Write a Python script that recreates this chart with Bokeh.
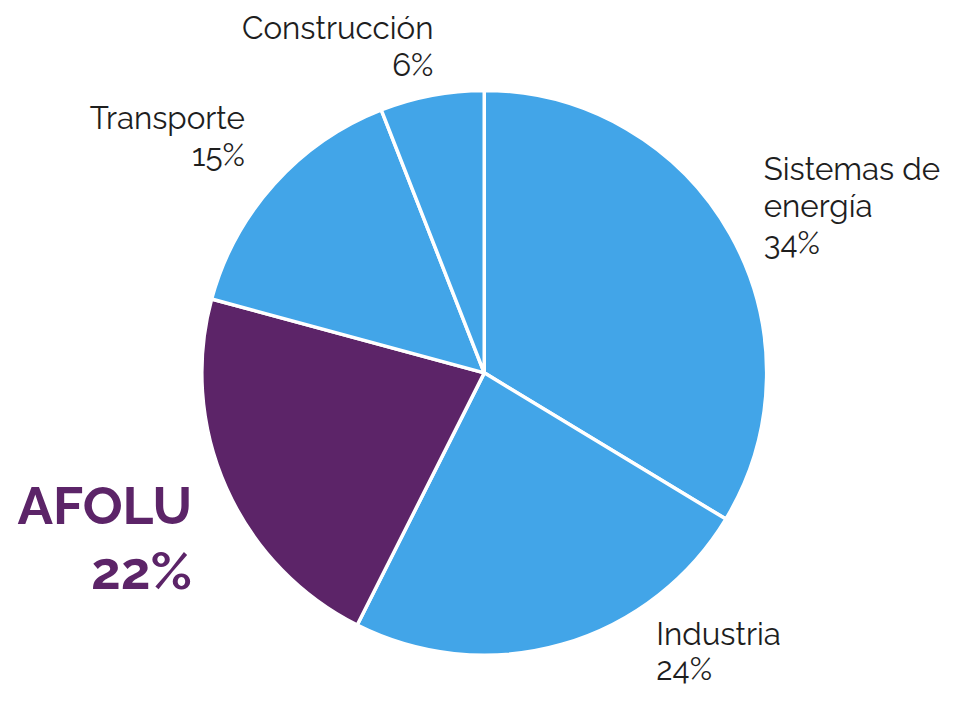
from bokeh.plotting import figure
from bokeh.models import Range1d, ColumnDataSource
from bokeh.core.properties import value
from bokeh.embed import file_html
from bokeh.resources import INLINE
import math

categories = ["Sistemas de energía", "Industria", "AFOLU", "Transporte", "Construcción"]
values = [34, 24, 22, 15, 6]
colors = ["#42A5E8", "#42A5E8", "#5C2468", "#42A5E8", "#42A5E8"]

W, H = 950, 688
S = H / 704.0  # px per data unit (reference pixel units)
p = figure(width=W, height=H, output_backend="svg", toolbar_location=None,
           x_range=Range1d(0, W / S), y_range=Range1d(0, 704), min_border=0)
p.axis.visible = False
p.grid.visible = False
p.outline_line_color = None
p.background_fill_color = "white"

total = sum(values)
cx, cy, r = 495, 704 - 381, 289
starts, ends = [], []
cum = 0
for v in values:
    starts.append(math.pi / 2 - 2 * math.pi * cum / total)
    cum += v
    ends.append(math.pi / 2 - 2 * math.pi * cum / total)
src = ColumnDataSource(dict(start=starts, end=ends, color=colors))
p.wedge(x=cx, y=cy, radius=r, start_angle="start", end_angle="end", direction="clock",
        fill_color="color", line_color="white", line_width=3.5, source=src)

pct = [f"{v}%" for v in values]
font = value("Raleway, Lato")

def label(lines, x, ys, align, size, color="#1e1e1e", style="normal"):
    p.text(x=[x] * len(lines), y=[704 - y for y in ys], text=lines, text_align=align,
           text_baseline="middle", text_font=font, text_font_size=f"{size * S:.1f}px",
           text_color=color, text_font_style=style)

label(["Sistemas de", "energía", pct[0]], 781, [172, 210, 248], "left", 32)
label([categories[1], pct[1]], 671, [648, 684], "left", 32)
label([categories[4], pct[4]], 443, [28, 66], "right", 32)
label([categories[3], pct[3]], 250, [120, 158], "right", 32)
label([categories[2], pct[2]], 196, [516, 583], "right", 54, color="#5C2468", style="bold")

open("out.html", "w").write(file_html(p, INLINE))
